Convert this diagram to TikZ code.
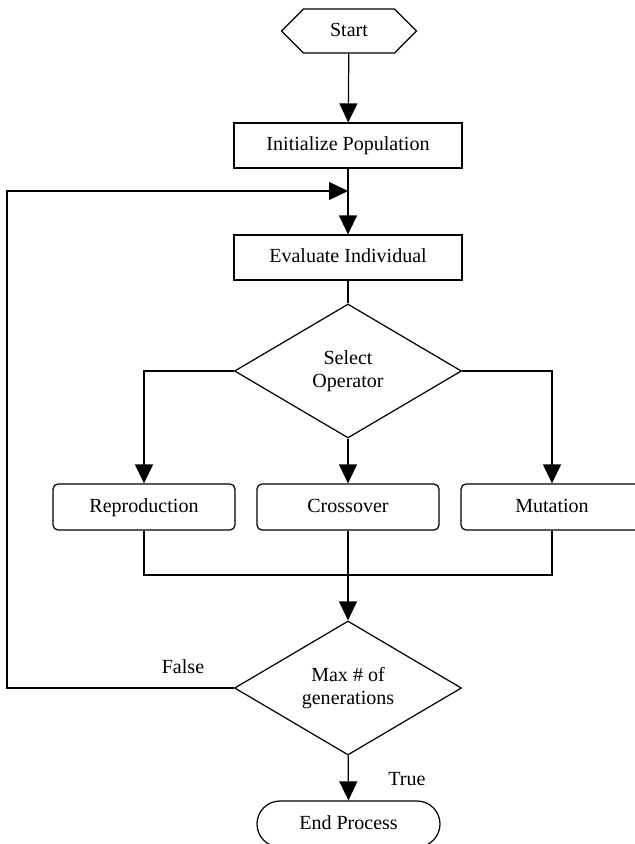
\documentclass[tikz,border=0pt]{standalone}
\usepackage{fontspec}
\setmainfont{Liberation Serif}
\usetikzlibrary{arrows.meta,shapes.geometric,shapes.misc,shapes.symbols}

\tikzset{
  box/.style={draw, line width=0.7pt, minimum width=4.56cm, minimum height=0.9cm, inner sep=0pt,
    text height=1.6ex, text depth=0.3ex},
  opbox/.style={draw, line width=0.7pt, rounded corners=0.1cm, minimum width=3.64cm, minimum height=0.92cm, inner sep=0pt,
    text height=1.6ex, text depth=0.3ex},
  decision/.style={draw, diamond, line width=0.7pt, minimum width=4.54cm, minimum height=2.68cm, inner sep=0pt, align=center},
}

\begin{document}
\begin{tikzpicture}[>={Triangle[length=3.8mm,width=3.6mm]}, line width=0.7pt,
    font=\fontsize{11.4pt}{13.2pt}\selectfont]

  % --- 1. 描画範囲 ---
  \useasboundingbox (0,0) rectangle (12.7,-16.88);
  \clip (0,0) rectangle (12.7,-16.88);

  % --- 2. 上段: 開始, 初期化, 評価 ---
  \node[draw, signal, signal to=west and east, line width=0.7pt,
        minimum width=2.7cm, minimum height=0.88cm, inner sep=0pt,
        text height=1.6ex, text depth=0.3ex] (start) at (6.98,-0.62) {Start};
  \node[box] (init) at (6.96,-2.91) {Initialize Population};
  \node[box] (eval) at (6.96,-5.15) {Evaluate Individual};

  % 戻り線の合流点
  \coordinate (join) at (6.96,-3.82);
  \coordinate (loop) at (0.14,-3.82);

  % --- 3. 演算子の選択 ---
  \node[decision] (select) at (6.96,-7.42) {Select\\Operator};

  \node[opbox] (repro) at (2.88,-10.14) {Reproduction};
  \node[opbox] (cross) at (6.96,-10.14) {Crossover};
  \node[opbox] (mut)   at (11.04,-10.14) {Mutation};

  \coordinate (merge) at (6.96,-11.5);

  % --- 4. 終了判定 ---
  \node[decision] (max) at (6.96,-13.76) {Max \# of\\generations};
  \node[draw, rounded rectangle, line width=0.7pt, minimum width=3.66cm,
        minimum height=0.92cm, inner sep=0pt,
        text height=1.6ex, text depth=0.3ex] (end) at (6.97,-16.48) {End Process};

  % --- 5. 接続線 ---
  \draw[->] (start) -- (init);
  \draw[->] (init) -- (eval);
  \draw (eval) -- (select);

  \draw[->] (select.west) -| (repro.north);
  \draw[->] (select) -- (cross);
  \draw[->] (select.east) -| (mut.north);

  \draw (repro.south) |- (merge);
  \draw (mut.south) |- (merge);
  \draw (cross.south) -- (merge);
  \draw[->] (merge) -- (max.north);

  \draw[->] (max) -- (end);
  \draw[->] (max.west) -| (loop) -- (join);

  % --- 6. ラベル ---
  \node (false) at (3.66,-13.34) {False};
  \node (true) at (8.14,-15.58) {True};

\end{tikzpicture}
\end{document}
